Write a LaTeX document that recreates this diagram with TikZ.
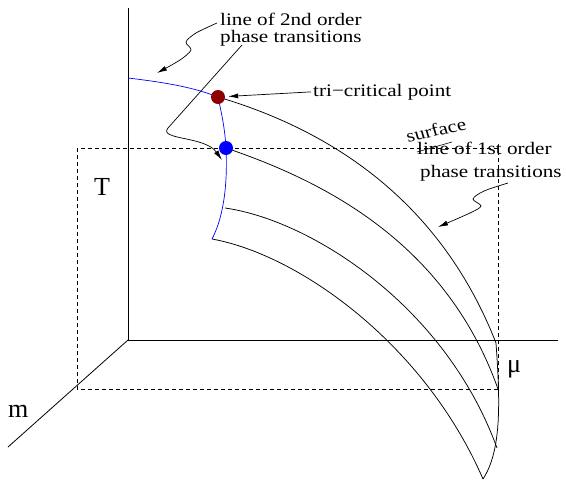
\documentclass[tikz,border=0pt]{standalone}
\usepackage{fontspec}
\setmainfont{Liberation Serif}
\usetikzlibrary{arrows.meta}

\begin{document}
\begin{tikzpicture}[x=1pt,y=-1pt,
  lbl/.style={inner sep=0,xscale=1.2,align=left,font=\fontsize{17.6}{17}\selectfont},
  axlbl/.style={inner sep=0,anchor=base west,font=\fontsize{26}{26}\selectfont},
  arr/.style={-{Latex[length=10pt,width=5pt]},line width=0.7pt},
  sheet/.style={line width=0.75pt},
  dot/.style={circle,inner sep=0,minimum size=14pt}]
\useasboundingbox (0,0) rectangle (566,480);
% axes
\coordinate (o) at (128,340);
\coordinate (tend) at (128,8);
\coordinate (muend) at (558,340);
\coordinate (mend) at (8,447);
\draw[line width=0.8pt] (tend) -- (o) -- (muend);
\draw[line width=0.8pt] (o) -- (mend);
\draw[dash pattern=on 4pt off 3pt,line width=0.7pt] (77,148) rectangle (498,389);
\node[axlbl] (tlab) at (94,195) {T};
\node[axlbl] (mlab) at (8,417) {m};
\node[axlbl] (mulab) at (507,372) {μ};
% surface lines
\coordinate (a0) at (218,97);  \coordinate (a1) at (496,343);
\coordinate (b0) at (226,148); \coordinate (b1) at (498,389);
\coordinate (c0) at (225,208); \coordinate (c1) at (497,448);
\coordinate (d0) at (212,239); \coordinate (d1) at (483,479);
\draw[sheet] (a0) .. controls (330,130) and (440,200) .. (a1);
\draw[sheet] (b0) .. controls (320,180) and (445,240) .. (b1);
\draw[sheet] (c0) .. controls (310,220) and (445,305) .. (c1);
\draw[sheet] (d0) .. controls (300,255) and (425,345) .. (d1);
\draw[sheet] (a1) .. controls (500,400) and (502,450) .. (d1);
% critical line
\draw[blue,line width=0.7pt] (128,78) .. controls (170,83) and (195,88) .. (a0)
  .. controls (222,115) and (225,130) .. (b0)
  .. controls (228,190) and (222,220) .. (d0);
\node[dot,fill={rgb,255:red,140;green,0;blue,0}] (tri) at (a0) {};
\node[dot,fill=blue] (crit) at (b0) {};
% labels
\node[lbl,anchor=north west] (lab2nd) at (220,12.8) {line of 2nd order\\phase transitions};
\node[lbl,anchor=base west] (tcp) at (313,96) {tri−critical point};
\node[lbl,anchor=north west,font=\fontsize{17.6}{23}\selectfont] (lab1st) at (417,142) {line of 1st order\\\hspace*{2.5pt}phase transitions};
\node[lbl,rotate=14] (surf) at (436,130) {surface};
% pointers
\coordinate (p2a) at (217,23);
\coordinate (p2b) at (157,73);
\draw[arr] plot[smooth] coordinates {(p2a) (196,33) (186,42) (191,50) (180,60) (p2b)};
\coordinate (p3a) at (242,45);
\coordinate (p3b) at (222,160);
\draw[arr] (p3a) -- (168,128) .. controls (158,140) and (205,136) .. (p3b);
\draw[arr,shorten <=2pt,shorten >=3pt] (tcp.west) -- (tri);
\coordinate (p1a) at (508,183);
\coordinate (p1b) at (438,227);
\draw[arr] plot[smooth] coordinates {(p1a) (484,191) (473,199) (481,206) (470,213) (p1b)};
\draw[line width=0.6pt] (417,152) -- (452,142);
\end{tikzpicture}
\end{document}
